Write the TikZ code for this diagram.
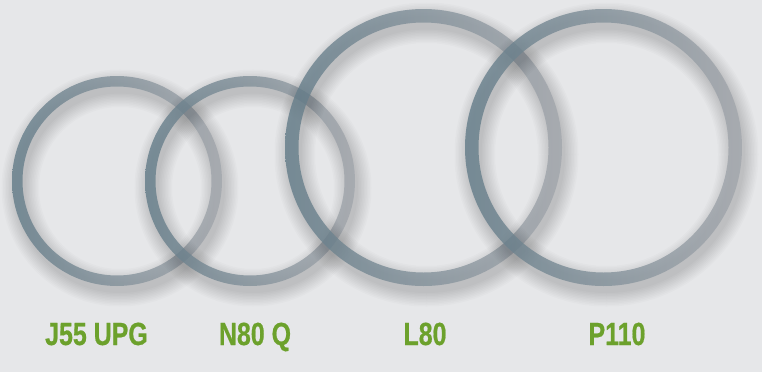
\documentclass[tikz,border=0pt]{standalone}
\usepackage{fontspec}
\newfontfamily\gradefont[FakeStretch=0.78, FakeBold=0.6]{Liberation Sans Bold}
\usetikzlibrary{positioning}

\definecolor{paper}{HTML}{E6E7E9}
\definecolor{steelleft}{HTML}{637C89}
\definecolor{steelmid}{HTML}{83949D}
\definecolor{steelright}{HTML}{A2A6AC}
\definecolor{gradegreen}{HTML}{6CA12C}

\begin{document}
\begin{tikzpicture}[x=1pt, y=-1pt,
    grade/.style={text=gradegreen, font=\gradefont\fontsize{32}{36}\selectfont, anchor=base, inner sep=0pt},
    pipe/.style={even odd rule, left color=steelleft, middle color=steelmid, right color=steelright, opacity=0.8}]
  \useasboundingbox (0,0) rectangle (762,372);
  \fill[paper] (0,0) rectangle (762,372);

  % one ring per steel grade: name / centre / outer radius / wall
  \foreach \name/\cx/\cy/\r/\w in {j55/117/181/105/10.5, n80/250/181/105/10.5,
      l80/423.5/147.5/138.5/13.5, p110/603.5/147.5/138.5/13.5} {
    \coordinate (\name) at (\cx,\cy);
    % soft shadow below the ring
    \foreach \s in {0,...,9}
      \draw[black, opacity=0.016, line width=\w+\s*3] (\cx+3,\cy+7) circle (\r-\w/2);
    \shade[pipe] (\cx,\cy) circle (\r) (\cx,\cy) circle (\r-\w);
  }

  \node[grade] (j55label) at (96.5,345) {J55 UPG};
  \node[grade] (n80label) at (255,345) {N80 Q};
  \node[grade] (l80label) at (425,345) {L80};
  \node[grade] (p110label) at (617,345) {P110};
\end{tikzpicture}
\end{document}
